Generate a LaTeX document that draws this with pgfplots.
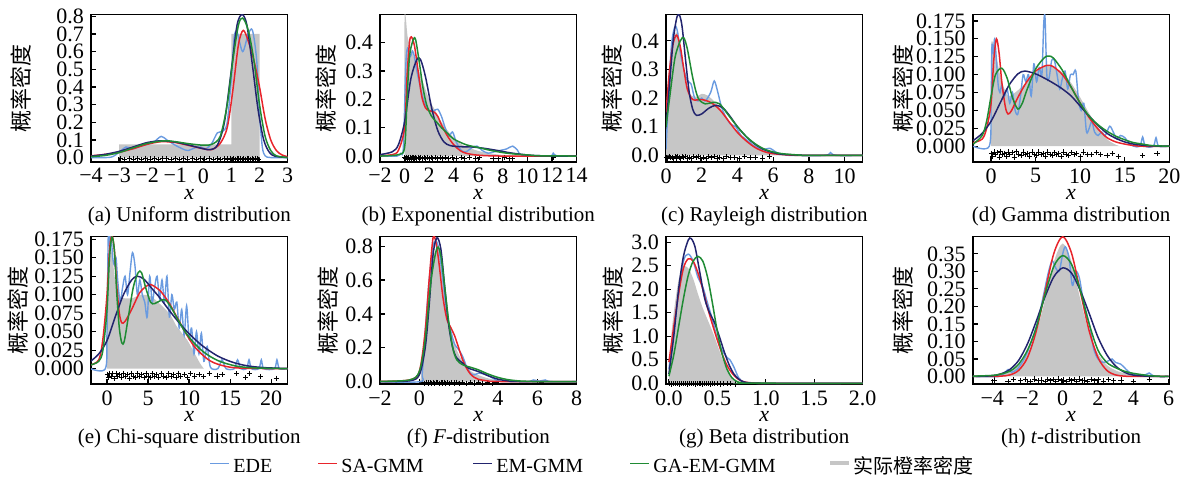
\documentclass[border=0pt]{standalone}
\usepackage{fontspec}
\setmainfont{Liberation Serif}
\newfontfamily\cjk{Noto Sans CJK SC}
\usepackage{pgfplots}
\pgfplotsset{compat=1.18}

\definecolor{edec}{HTML}{6A9BE0}
\definecolor{sac}{HTML}{E8242B}
\definecolor{emc}{HTML}{22246E}
\definecolor{gac}{HTML}{1F8B34}
\definecolor{truthc}{HTML}{C6C6C6}

\pgfplotsset{
  panel/.style={
    scale only axis, width=98.3pt, height=73.75pt,
    anchor=north west,
    axis line style={black, line width=0.8pt},
    tick pos=left, tick align=inside,
    major tick length=2.5pt,
    every tick/.append style={black, line width=0.6pt},
    tick label style={font=\fontsize{11}{12}\selectfont},
    xticklabel style={inner sep=0pt, yshift=-3pt},
    xlabel={\itshape x},
    xlabel style={font=\fontsize{11}{12}\selectfont, inner sep=0pt, at={(axis description cs:0.5,0)}, anchor=center, yshift=-16pt},
    ylabel={\fontsize{11}{12}\selectfont\cjk 概率密度},
    clip mode=individual,
  },
  ylab/.style={ylabel style={at={(axis description cs:#1,0.5)}, anchor=center}},
  ede/.style={color=edec, line width=0.7pt, mark=none},
  sa/.style={color=sac, line width=0.75pt, mark=none},
  em/.style={color=emc, line width=0.75pt, mark=none},
  ga/.style={color=gac, line width=0.75pt, mark=none},
  truth/.style={fill=truthc, draw=none, mark=none},
  rug/.style={only marks, mark=+, mark size=1.3pt, black, mark options={line width=0.4pt}},
}
\newcommand{\subcap}[1]{\node[font=\fontsize{10.5}{12}\selectfont, inner sep=0pt] at (axis description cs:0.5,0) [yshift=-27pt] {#1};}
\newcommand{\legtext}[2]{\node[anchor=west, inner sep=0pt, font=\fontsize{10}{12}\selectfont] at (axis cs:#1,0) {#2};}

\begin{document}
\begin{tikzpicture}
\useasboundingbox (0,0) rectangle (595pt,-240pt);

% (a) uniform
\begin{axis}[panel, ylab=-0.355, at={(45.5pt,-7.25pt)},
  xmin=-4, xmax=3, ymin=-0.025, ymax=0.81,
  xtick={-4,-3,-2,-1,0,1,2,3}, xticklabels={−4,−3,−2,−1,0,1,2,3},
  ytick={0,0.1,0.2,0.3,0.4,0.5,0.6,0.7,0.8},
  yticklabels={0.0,0.1,0.2,0.3,0.4,0.5,0.6,0.7,0.8}]
\addplot[truth] coordinates {(-3,0) (-3,0.075) (1,0.075) (1,0.7) (2,0.7) (2,0)} \closedcycle;
\addplot[rug] coordinates {
 (-2.95,-0.006) (-2.8,-0.01) (-2.62,-0.004) (-2.5,-0.008) (-2.35,-0.005) (-2.2,-0.011)
 (-2.05,-0.004) (-1.9,-0.008) (-1.75,-0.006) (-1.6,-0.01) (-1.45,-0.004) (-1.3,-0.007)
 (-1.15,-0.011) (-1.0,-0.005) (-0.85,-0.009) (-0.7,-0.004) (-0.55,-0.008) (-0.4,-0.006)
 (-0.25,-0.01) (-0.1,-0.005) (0.05,-0.008) (0.2,-0.004) (0.35,-0.009) (0.5,-0.006)
 (0.62,-0.01) (0.75,-0.005) (0.85,-0.008) (0.95,-0.004) (1.02,-0.009) (1.08,-0.006)
 (1.14,-0.011) (1.2,-0.004) (1.26,-0.008) (1.32,-0.005) (1.38,-0.01) (1.44,-0.006)
 (1.5,-0.009) (1.56,-0.004) (1.62,-0.007) (1.68,-0.011) (1.74,-0.005) (1.8,-0.009)
 (1.86,-0.004) (1.92,-0.007) (1.97,-0.01)};
\addplot[ede, smooth] coordinates {
 (-4,0) (-3.3,0.002) (-3.0,0.03) (-2.75,0.06) (-2.5,0.05) (-2.25,0.065) (-2.0,0.075)
 (-1.75,0.09) (-1.5,0.12) (-1.3,0.1) (-1.0,0.07) (-0.75,0.05) (-0.55,0.04) (-0.3,0.055)
 (-0.1,0.06) (0.1,0.05) (0.3,0.08) (0.5,0.14) (0.7,0.15) (0.85,0.2) (1.0,0.45) (1.1,0.68)
 (1.2,0.71) (1.4,0.6) (1.6,0.7) (1.75,0.72) (1.9,0.55) (2.0,0.25) (2.1,0.06) (2.2,0.01)
 (2.4,0) (3,0)};
\addplot[sa, smooth] coordinates {
 (-4,0.01) (-3.5,0.018) (-3,0.03) (-2.5,0.05) (-2,0.075) (-1.5,0.09) (-1,0.085) (-0.5,0.068)
 (0,0.05) (0.3,0.045) (0.6,0.08) (0.85,0.17) (1.05,0.38) (1.25,0.64) (1.42,0.72) (1.6,0.66)
 (1.8,0.55) (2.0,0.4) (2.2,0.22) (2.4,0.1) (2.6,0.04) (2.8,0.015) (3,0.005)};
\addplot[em, smooth] coordinates {
 (-4,0.008) (-3.5,0.018) (-3,0.035) (-2.5,0.06) (-2,0.085) (-1.5,0.095) (-1,0.088)
 (-0.5,0.07) (0,0.05) (0.25,0.045) (0.5,0.07) (0.75,0.2) (1,0.5) (1.2,0.75) (1.38,0.81)
 (1.55,0.75) (1.75,0.52) (1.95,0.27) (2.15,0.1) (2.35,0.03) (2.55,0.008) (3,0)};
\addplot[ga, smooth] coordinates {
 (-4,0.005) (-3.5,0.012) (-3,0.028) (-2.5,0.055) (-2,0.08) (-1.4,0.095) (-1,0.09)
 (-0.5,0.078) (0,0.07) (0.3,0.075) (0.6,0.12) (0.85,0.3) (1.05,0.55) (1.25,0.75) (1.4,0.79)
 (1.6,0.72) (1.8,0.55) (2.0,0.3) (2.2,0.12) (2.4,0.04) (2.6,0.01) (3,0)};
\subcap{(a) Uniform distribution}
\end{axis}

% (b) exponential
\begin{axis}[panel, ylab=-0.274, at={(190pt,-7.25pt)},
  xmin=-2, xmax=14, ymin=-0.021, ymax=0.499,
  xtick={-2,0,2,4,6,8,10,12,14}, xticklabels={−2,0,2,4,6,8,10,12,14},
  ytick={0,0.1,0.2,0.3,0.4}, yticklabels={0.0,0.1,0.2,0.3,0.4}]
\addplot[truth, smooth] coordinates {(0,0) (0,0.49) (0.25,0.42) (0.5,0.38) (1,0.32) (1.5,0.26)
 (2,0.2) (2.5,0.16) (3,0.12) (3.5,0.09) (4,0.065) (4.5,0.045) (5,0.033) (6,0.018) (7,0.009)
 (8,0.004) (10,0.001) (14,0)} \closedcycle;
\addplot[rug] coordinates {
 (0.02,-0.006) (0.08,-0.01) (0.15,-0.004) (0.22,-0.008) (0.3,-0.006) (0.38,-0.011) (0.45,-0.005)
 (0.55,-0.009) (0.62,-0.004) (0.72,-0.007) (0.8,-0.01) (0.9,-0.005) (1.0,-0.008) (1.1,-0.004)
 (1.2,-0.009) (1.32,-0.006) (1.45,-0.01) (1.58,-0.005) (1.7,-0.008) (1.85,-0.004) (2.0,-0.009)
 (2.15,-0.006) (2.3,-0.01) (2.5,-0.005) (2.7,-0.008) (2.9,-0.004) (3.1,-0.009) (3.35,-0.006)
 (3.6,-0.01) (3.9,-0.005) (4.2,-0.008) (4.6,-0.006) (4.9,-0.01) (5.3,-0.005) (5.8,-0.008)
 (6.1,-0.005) (7.2,-0.007) (7.6,-0.009) (8.1,-0.005) (8.5,-0.008) (8.8,-0.01) (12.1,-0.006)};
\addplot[ede, smooth] coordinates {
 (-2,0) (-0.6,0) (-0.3,0.01) (-0.1,0.03) (0.1,0.32) (0.25,0.38) (0.45,0.35) (0.65,0.37)
 (0.8,0.35) (1.0,0.3) (1.3,0.24) (1.6,0.19) (2.0,0.16) (2.4,0.16) (2.7,0.165) (3.0,0.14)
 (3.3,0.1) (3.6,0.07) (3.9,0.085) (4.2,0.05) (4.6,0.02) (5.0,0.015) (5.5,0.03) (5.9,0.035)
 (6.3,0.02) (6.8,0.01) (7.3,0.015) (7.8,0.02) (8.3,0.025) (8.8,0.035) (9.2,0.02) (9.6,0.003)
 (11.8,0) (12.1,0.01) (12.4,0) (14,0)};
\addplot[sa, smooth] coordinates {
 (-2,0.001) (-1,0.005) (-0.5,0.02) (0,0.1) (0.2,0.28) (0.4,0.4) (0.55,0.42) (0.8,0.39)
 (1.1,0.3) (1.4,0.21) (1.7,0.17) (2.0,0.16) (2.4,0.155) (2.7,0.14) (3.0,0.11) (3.5,0.07)
 (4,0.04) (4.5,0.02) (5,0.01) (6,0.003) (8,0) (14,0)};
\addplot[em, smooth] coordinates {
 (-2,0.005) (-1,0.015) (-0.5,0.04) (0,0.12) (0.5,0.27) (1.0,0.34) (1.3,0.34) (1.7,0.28)
 (2.2,0.17) (2.7,0.09) (3.2,0.05) (3.7,0.037) (4.5,0.033) (5.5,0.032) (6.5,0.027) (7.5,0.02)
 (8.5,0.012) (9.5,0.006) (10.5,0.002) (12,0) (14,0)};
\addplot[ga, smooth] coordinates {
 (-2,0) (-0.5,0.005) (0,0.03) (0.2,0.2) (0.4,0.35) (0.7,0.41) (0.9,0.41) (1.2,0.33)
 (1.5,0.24) (1.8,0.18) (2.2,0.14) (2.6,0.12) (3,0.1) (3.5,0.08) (4,0.06) (5,0.04) (6,0.03)
 (7,0.02) (8,0.012) (9,0.007) (10,0.004) (11,0.001) (14,0)};
\subcap{(b) Exponential distribution}
\end{axis}

% (c) Rayleigh
\begin{axis}[panel, ylab=-0.272, at={(333pt,-7.25pt)},
  xmin=0, xmax=11, ymin=-0.023, ymax=0.492,
  xtick={0,2,4,6,8,10}, xticklabels={0,2,4,6,8,10},
  ytick={0,0.1,0.2,0.3,0.4}, yticklabels={0.0,0.1,0.2,0.3,0.4}]
\addplot[truth, smooth] coordinates {(0,0) (0,0.05) (0.2,0.25) (0.4,0.38) (0.56,0.43) (0.75,0.4)
 (1.0,0.3) (1.2,0.24) (1.4,0.21) (1.7,0.205) (2.0,0.215) (2.3,0.21) (2.6,0.195) (2.9,0.175)
 (3.2,0.15) (3.6,0.11) (4.0,0.085) (4.3,0.066) (4.7,0.045) (5.1,0.031) (5.5,0.02) (5.8,0.014)
 (6.3,0.007) (7,0.002) (8,0)} \closedcycle;
\addplot[rug] coordinates {
 (0.03,-0.006) (0.1,-0.01) (0.18,-0.004) (0.26,-0.008) (0.34,-0.006) (0.42,-0.011) (0.5,-0.005)
 (0.58,-0.009) (0.66,-0.004) (0.74,-0.007) (0.82,-0.01) (0.9,-0.005) (1.0,-0.008) (1.1,-0.004)
 (1.2,-0.009) (1.3,-0.006) (1.42,-0.01) (1.55,-0.005) (1.68,-0.008) (1.8,-0.004) (1.95,-0.009)
 (2.1,-0.006) (2.25,-0.01) (2.4,-0.005) (2.55,-0.008) (2.7,-0.004) (2.85,-0.009) (3.0,-0.006)
 (3.2,-0.01) (3.4,-0.005) (3.6,-0.008) (3.85,-0.006) (4.1,-0.01) (4.4,-0.005) (4.7,-0.008)
 (5.0,-0.006) (5.4,-0.009) (5.8,-0.005)};
\addplot[ede, smooth] coordinates {
 (0,0.02) (0.1,0.15) (0.3,0.38) (0.5,0.45) (0.65,0.43) (0.8,0.36) (1.0,0.3) (1.2,0.26)
 (1.4,0.25) (1.6,0.2) (1.8,0.19) (2.0,0.2) (2.2,0.19) (2.5,0.22) (2.7,0.26) (2.9,0.22)
 (3.1,0.17) (3.3,0.14) (3.6,0.11) (3.9,0.1) (4.2,0.07) (4.6,0.05) (5.0,0.03) (5.4,0.02)
 (5.8,0.025) (6.2,0.01) (6.6,0.003) (7,0) (8.9,0) (9.2,0.01) (9.5,0) (11,0)};
\addplot[sa, smooth] coordinates {
 (0,0.15) (0.2,0.3) (0.4,0.39) (0.6,0.42) (0.8,0.38) (1.0,0.3) (1.2,0.23) (1.5,0.195)
 (2.0,0.195) (2.5,0.185) (3.0,0.16) (3.5,0.12) (4.0,0.08) (4.5,0.05) (5.0,0.027) (5.5,0.013)
 (6.0,0.006) (7,0.001) (8,0) (11,0)};
\addplot[em, smooth] coordinates {
 (0,0.1) (0.2,0.25) (0.4,0.4) (0.6,0.48) (0.75,0.49) (0.9,0.45) (1.1,0.33) (1.3,0.22)
 (1.5,0.16) (1.7,0.14) (2.0,0.145) (2.4,0.165) (2.8,0.175) (3.2,0.165) (3.6,0.135) (4.0,0.1)
 (4.5,0.065) (5.0,0.038) (5.5,0.02) (6.0,0.01) (6.5,0.004) (7.5,0.001) (8,0) (11,0)};
\addplot[ga, smooth] coordinates {
 (0,0.1) (0.2,0.2) (0.5,0.34) (0.8,0.4) (1.0,0.41) (1.2,0.37) (1.5,0.27) (1.8,0.2)
 (2.2,0.18) (2.6,0.185) (3.0,0.18) (3.5,0.14) (4.0,0.1) (4.5,0.065) (5.0,0.04) (5.5,0.022)
 (6.0,0.012) (6.5,0.006) (7.5,0.001) (8,0) (11,0)};
\subcap{(c) Rayleigh distribution}
\end{axis}

% (d) Gamma
\begin{axis}[panel, ylab=-0.356, at={(486.4pt,-7.25pt)},
  xmin=-2.05, xmax=20, ymin=-0.022, ymax=0.184,
  xtick={0,5,10,15,20}, xticklabels={0,5,10,15,20},
  ytick={0,0.025,0.05,0.075,0.1,0.125,0.15,0.175},
  yticklabels={0.000,0.025,0.050,0.075,0.100,0.125,0.150,0.175}]
\addplot[truth, smooth] coordinates {(0,0) (0,0.14) (0.5,0.13) (1,0.1) (1.5,0.08) (2,0.07)
 (3,0.078) (4,0.09) (5,0.103) (6,0.112) (7,0.11) (8,0.103) (9,0.088) (10,0.068) (11,0.046)
 (12,0.027) (13,0.01) (14,0.002) (14.5,0)} \closedcycle;
\addplot[rug] coordinates {
 (0.05,-0.01) (0.2,-0.014) (0.35,-0.008) (0.5,-0.012) (0.7,-0.009) (0.9,-0.015) (1.1,-0.007)
 (1.3,-0.012) (1.5,-0.01) (1.7,-0.014) (1.9,-0.008) (2.1,-0.012) (2.35,-0.009) (2.6,-0.015)
 (2.85,-0.007) (3.1,-0.011) (3.35,-0.013) (3.6,-0.008) (3.85,-0.012) (4.1,-0.01) (4.35,-0.014)
 (4.6,-0.008) (4.85,-0.011) (5.1,-0.013) (5.35,-0.008) (5.6,-0.012) (5.85,-0.01) (6.1,-0.014)
 (6.35,-0.008) (6.6,-0.011) (6.85,-0.013) (7.1,-0.009) (7.35,-0.012) (7.6,-0.01) (7.85,-0.014)
 (8.1,-0.008) (8.4,-0.011) (8.7,-0.013) (9.0,-0.009) (9.3,-0.012) (9.6,-0.01) (10.0,-0.014)
 (10.4,-0.008) (10.8,-0.011) (11.3,-0.012) (11.8,-0.009) (12.3,-0.011) (13.0,-0.013)
 (13.6,-0.01) (14.3,-0.014) (17.0,-0.013) (18.6,-0.01)};
\addplot[ede, smooth] coordinates {
 (-2,0) (-0.2,0) (0,0.06) (0.1,0.14) (0.25,0.13) (0.4,0.15) (0.6,0.12) (0.8,0.085) (1.0,0.075)
 (1.2,0.085) (1.5,0.07) (1.8,0.08) (2.1,0.06) (2.4,0.075) (2.7,0.05) (3.0,0.045) (3.3,0.07)
 (3.6,0.1) (3.9,0.09) (4.2,0.1) (4.5,0.07) (4.8,0.115) (5.1,0.09) (5.4,0.11) (5.7,0.1)
 (5.9,0.17) (6.05,0.18) (6.25,0.1) (6.5,0.095) (6.8,0.12) (7.1,0.12) (7.4,0.1) (7.7,0.08)
 (8.0,0.095) (8.3,0.105) (8.6,0.08) (8.9,0.1) (9.2,0.1) (9.5,0.105) (9.8,0.065) (10.1,0.05)
 (10.4,0.06) (10.7,0.02) (11.0,0.025) (11.3,0.035) (11.6,0.02) (12.0,0.015) (12.4,0.02)
 (12.8,0.015) (13.3,0.028) (13.7,0.02) (14.1,0.01) (14.5,0.015) (15.0,0.012) (15.5,0.004)
 (16.0,0) (16.7,0) (17.0,0.013) (17.3,0) (18.2,0) (18.5,0.012) (18.8,0) (20,0)};
\addplot[sa, smooth] coordinates {
 (-2,0.005) (-1,0.01) (-0.5,0.025) (0,0.06) (0.3,0.12) (0.6,0.15) (0.9,0.13) (1.2,0.09)
 (1.6,0.055) (1.9,0.045) (2.3,0.05) (3,0.068) (4,0.09) (5,0.105) (6,0.112) (6.5,0.113)
 (7,0.111) (8,0.1) (9,0.082) (10,0.06) (11,0.04) (12,0.024) (13,0.012) (14,0.006) (15,0.003)
 (16,0.001) (17,0) (20,0)};
\addplot[em, smooth] coordinates {
 (-2,0.008) (-1,0.018) (0,0.035) (1,0.06) (2,0.085) (3,0.101) (3.8,0.105) (5,0.101) (6,0.095)
 (7,0.088) (8,0.08) (9,0.07) (10,0.056) (11,0.042) (12,0.029) (13,0.018) (14,0.011) (15,0.006)
 (16,0.003) (17,0.0015) (18,0.0005) (20,0)};
\addplot[ga, smooth] coordinates {
 (-2,0.003) (-1,0.015) (-0.5,0.035) (0,0.07) (0.5,0.1) (1.2,0.109) (1.8,0.095) (2.4,0.068)
 (3.0,0.052) (3.5,0.06) (4,0.078) (5,0.108) (6,0.124) (6.5,0.126) (7,0.123) (8,0.106)
 (9,0.082) (10,0.06) (11,0.042) (12,0.03) (13,0.021) (14,0.014) (15,0.009) (16,0.005)
 (17,0.003) (18,0.001) (20,0)};
\subcap{(d) Gamma distribution}
\end{axis}

% (e) chi-square
\begin{axis}[panel, ylab=-0.369, at={(45.5pt,-118.35pt)},
  xmin=-1.95, xmax=22, ymin=-0.021, ymax=0.1785,
  xtick={0,5,10,15,20}, xticklabels={0,5,10,15,20},
  ytick={0,0.025,0.05,0.075,0.1,0.125,0.15,0.175},
  yticklabels={0.000,0.025,0.050,0.075,0.100,0.125,0.150,0.175}]
\addplot[truth, smooth] coordinates {(0,0) (0,0.12) (0.3,0.16) (0.6,0.156) (1.0,0.12) (1.6,0.098)
 (2.5,0.095) (3.25,0.096) (4.1,0.1) (5.3,0.098) (6.5,0.087) (7.7,0.073) (8.5,0.057)
 (9.75,0.039) (10.6,0.022) (11.4,0.006) (11.8,0)} \closedcycle;
\addplot[rug] coordinates {
 (0.05,-0.008) (0.2,-0.012) (0.35,-0.006) (0.5,-0.01) (0.7,-0.007) (0.9,-0.013) (1.1,-0.006)
 (1.3,-0.01) (1.5,-0.008) (1.75,-0.012) (2.0,-0.006) (2.25,-0.01) (2.5,-0.008) (2.75,-0.013)
 (3.0,-0.006) (3.25,-0.01) (3.5,-0.012) (3.75,-0.007) (4.0,-0.01) (4.25,-0.008) (4.5,-0.012)
 (4.75,-0.006) (5.0,-0.01) (5.25,-0.012) (5.5,-0.007) (5.75,-0.01) (6.0,-0.008) (6.3,-0.012)
 (6.6,-0.006) (6.9,-0.01) (7.2,-0.012) (7.5,-0.007) (7.8,-0.01) (8.1,-0.008) (8.4,-0.012)
 (8.7,-0.006) (9.0,-0.01) (9.4,-0.008) (9.8,-0.012) (10.2,-0.007) (10.7,-0.01) (11.2,-0.008)
 (11.8,-0.011) (12.5,-0.007) (13.4,-0.01) (14.0,-0.008) (15.8,-0.007) (16.9,-0.012)
 (17.4,-0.006) (18.7,-0.011) (20.6,-0.013)};
\addplot[ede, smooth] coordinates {
 (-2,0) (-0.2,0) (0,0.05) (0.15,0.178) (0.35,0.17) (0.5,0.18) (0.7,0.15) (0.9,0.14) (1.1,0.15)
 (1.3,0.12) (1.6,0.09) (1.9,0.11) (2.2,0.125) (2.5,0.1) (2.8,0.13) (3.1,0.157) (3.4,0.14)
 (3.7,0.1) (4.0,0.12) (4.3,0.1) (4.6,0.09) (4.9,0.07) (5.2,0.125) (5.5,0.09) (5.8,0.11)
 (6.1,0.125) (6.4,0.095) (6.7,0.12) (7.0,0.09) (7.3,0.125) (7.6,0.07) (7.9,0.1) (8.2,0.08)
 (8.5,0.09) (8.8,0.055) (9.1,0.08) (9.4,0.045) (9.7,0.085) (10,0.04) (10.3,0.055) (10.6,0.02)
 (10.9,0.05) (11.2,0.02) (11.5,0.048) (11.8,0.01) (12.2,0.03) (12.6,0.002) (13.5,0)
 (14,0.012) (14.5,0) (15.5,0) (15.9,0.012) (16.3,0) (17,0) (17.3,0.012) (17.6,0) (18.5,0)
 (18.8,0.012) (19.1,0) (20.4,0) (20.7,0.012) (21,0) (22,0)};
\addplot[sa, smooth] coordinates {
 (-2,0.005) (-1,0.012) (-0.5,0.04) (0,0.1) (0.3,0.16) (0.6,0.18) (0.9,0.16) (1.2,0.11)
 (1.5,0.075) (1.8,0.062) (2.2,0.064) (3,0.08) (4,0.103) (5,0.113) (5.5,0.113) (6.5,0.105)
 (7.5,0.09) (8.5,0.07) (9.5,0.05) (10.5,0.032) (11.5,0.02) (12.5,0.011) (13.5,0.006)
 (15,0.002) (17,0.0005) (22,0)};
\addplot[em, smooth] coordinates {
 (-2,0.01) (-1,0.02) (0,0.038) (1,0.07) (2,0.1) (3,0.12) (3.7,0.125) (4.5,0.121) (5.5,0.108)
 (6.5,0.095) (7.5,0.08) (8.5,0.066) (9.5,0.053) (10.5,0.042) (11.5,0.032) (12.5,0.024)
 (13.5,0.017) (14.5,0.012) (15.5,0.008) (17,0.004) (19,0.0015) (22,0.0002)};
\addplot[ga, smooth] coordinates {
 (-2,0.005) (-1,0.01) (-0.5,0.025) (0,0.08) (0.3,0.15) (0.6,0.178) (0.9,0.16) (1.2,0.1)
 (1.5,0.055) (1.8,0.035) (2.1,0.037) (2.6,0.07) (3.2,0.11) (3.8,0.13) (4.2,0.13) (4.7,0.11)
 (5.3,0.09) (5.8,0.088) (6.5,0.092) (7.1,0.093) (7.8,0.083) (8.6,0.067) (9.5,0.05)
 (10.5,0.036) (11.5,0.025) (12.5,0.017) (13.5,0.011) (14.5,0.007) (16,0.003) (18,0.001) (22,0)};
\subcap{(e) Chi-square distribution}
\end{axis}

% (f) F
\begin{axis}[panel, ylab=-0.265, at={(190pt,-118.35pt)},
  xmin=-2, xmax=8, ymin=-0.015, ymax=0.856,
  xtick={-2,0,2,4,6,8}, xticklabels={−2,0,2,4,6,8},
  ytick={0,0.2,0.4,0.6,0.8}, yticklabels={0.0,0.2,0.4,0.6,0.8}]
\addplot[truth, smooth] coordinates {(0.05,0) (0.1,0.05) (0.2,0.15) (0.34,0.31) (0.5,0.6)
 (0.65,0.72) (0.77,0.76) (0.94,0.78) (1.05,0.72) (1.2,0.6) (1.45,0.37) (1.7,0.25) (1.97,0.17)
 (2.3,0.1) (2.65,0.06) (3.2,0.03) (3.85,0.01) (4.5,0.002) (5,0)} \closedcycle;
\addplot[rug] coordinates {
 (0.15,-0.006) (0.25,-0.01) (0.35,-0.004) (0.45,-0.008) (0.55,-0.006) (0.62,-0.011)
 (0.7,-0.005) (0.78,-0.009) (0.86,-0.004) (0.94,-0.007) (1.02,-0.01) (1.1,-0.005) (1.18,-0.008)
 (1.26,-0.004) (1.35,-0.009) (1.45,-0.006) (1.55,-0.01) (1.65,-0.005) (1.78,-0.008) (1.9,-0.004)
 (2.05,-0.009) (2.2,-0.006) (2.4,-0.01) (2.6,-0.005) (2.8,-0.008) (3.0,-0.004) (3.2,-0.009)
 (3.45,-0.006) (3.7,-0.01) (3.9,-0.005) (6.2,-0.007)};
\addplot[ede, smooth] coordinates {
 (-2,0) (0.05,0) (0.15,0.05) (0.3,0.3) (0.5,0.6) (0.7,0.8) (0.85,0.83) (1.0,0.78) (1.2,0.6)
 (1.4,0.4) (1.6,0.3) (1.8,0.22) (2.0,0.19) (2.2,0.15) (2.4,0.09) (2.6,0.05) (2.8,0.04)
 (3.0,0.05) (3.3,0.045) (3.6,0.03) (3.9,0.01) (4.2,0.002) (5.5,0) (5.8,0.01) (6.1,0.003)
 (6.4,0.01) (6.7,0) (8,0)};
\addplot[sa, smooth] coordinates {
 (-2,0.001) (-0.5,0.01) (0,0.06) (0.3,0.3) (0.5,0.6) (0.7,0.85) (0.85,0.82) (1.0,0.7)
 (1.2,0.5) (1.4,0.37) (1.6,0.32) (1.8,0.27) (2.0,0.2) (2.2,0.13) (2.4,0.08) (2.6,0.045)
 (2.8,0.025) (3.0,0.014) (3.5,0.004) (4,0.001) (8,0)};
\addplot[em, smooth] coordinates {
 (-2,0) (-0.5,0.005) (0,0.04) (0.3,0.2) (0.5,0.45) (0.7,0.75) (0.9,0.85) (1.1,0.78) (1.3,0.55)
 (1.5,0.33) (1.7,0.2) (1.9,0.14) (2.2,0.11) (2.5,0.08) (3.0,0.06) (3.5,0.035) (4.0,0.015)
 (4.5,0.005) (5,0.001) (8,0)};
\addplot[ga, smooth] coordinates {
 (-2,0.002) (-0.5,0.01) (0,0.06) (0.3,0.25) (0.6,0.6) (0.9,0.79) (1.1,0.74) (1.3,0.55)
 (1.5,0.35) (1.7,0.2) (1.9,0.13) (2.2,0.1) (2.6,0.085) (3.0,0.07) (3.5,0.045) (4.0,0.025)
 (4.5,0.012) (5.0,0.005) (5.5,0.002) (6,0.0005) (8,0)};
\subcap{(f) \textit{F}-distribution}
\end{axis}

% (g) Beta
\begin{axis}[panel, ylab=-0.269, at={(333pt,-118.35pt)},
  xmin=-0.03, xmax=2, ymin=-0.02, ymax=3.12,
  xtick={0,0.5,1,1.5,2}, xticklabels={0.0,0.5,1.0,1.5,2.0},
  ytick={0,0.5,1,1.5,2,2.5,3}, yticklabels={0.0,0.5,1.0,1.5,2.0,2.5,3.0}]
\addplot[truth, smooth] coordinates {(0,0) (0.02,0.9) (0.05,1.5) (0.1,2.2) (0.15,2.48) (0.2,2.45)
 (0.25,2.23) (0.3,1.9) (0.35,1.6) (0.4,1.35) (0.45,1.1) (0.5,0.82) (0.55,0.53) (0.6,0.28)
 (0.65,0.1) (0.7,0.01) (0.72,0)} \closedcycle;
\addplot[rug] coordinates {
 (0.01,-0.01) (0.03,-0.015) (0.05,-0.007) (0.07,-0.012) (0.09,-0.009) (0.11,-0.016)
 (0.13,-0.008) (0.15,-0.012) (0.17,-0.01) (0.19,-0.015) (0.21,-0.007) (0.23,-0.012)
 (0.25,-0.009) (0.27,-0.016) (0.29,-0.008) (0.31,-0.012) (0.33,-0.01) (0.35,-0.015)
 (0.37,-0.007) (0.39,-0.012) (0.41,-0.009) (0.43,-0.016) (0.45,-0.008) (0.47,-0.012)
 (0.5,-0.01) (0.53,-0.015) (0.56,-0.008) (0.6,-0.012) (0.64,-0.01) (0.69,-0.014)};
\addplot[ede, smooth] coordinates {
 (0,0.3) (0.05,1.1) (0.1,1.9) (0.15,2.6) (0.2,2.75) (0.25,2.6) (0.3,2.25) (0.35,2.05) (0.4,1.7)
 (0.45,1.35) (0.5,0.95) (0.55,0.7) (0.6,0.55) (0.63,0.5) (0.67,0.35) (0.72,0.12) (0.77,0.03)
 (0.85,0) (2,0)};
\addplot[sa, smooth] coordinates {
 (0,0.45) (0.05,1.2) (0.1,1.9) (0.15,2.45) (0.2,2.65) (0.25,2.6) (0.3,2.35) (0.35,2.0)
 (0.4,1.6) (0.45,1.25) (0.5,0.92) (0.55,0.62) (0.6,0.38) (0.65,0.22) (0.7,0.11) (0.75,0.05)
 (0.8,0.02) (0.9,0.003) (1,0) (2,0)};
\addplot[em, smooth] coordinates {
 (0,0.2) (0.05,1.0) (0.1,2.0) (0.15,2.7) (0.2,3.05) (0.23,3.08) (0.27,2.9) (0.32,2.35)
 (0.37,1.8) (0.42,1.5) (0.47,1.3) (0.52,1.0) (0.57,0.68) (0.62,0.4) (0.67,0.2) (0.72,0.09)
 (0.77,0.03) (0.85,0.005) (1,0) (2,0)};
\addplot[ga, smooth] coordinates {
 (0,0.15) (0.05,0.6) (0.1,1.2) (0.15,1.8) (0.2,2.3) (0.25,2.6) (0.3,2.7) (0.35,2.6) (0.4,2.25)
 (0.45,1.7) (0.5,1.1) (0.55,0.62) (0.6,0.3) (0.65,0.12) (0.7,0.04) (0.75,0.01) (0.85,0.001)
 (2,0)};
\subcap{(g) Beta distribution}
\end{axis}

% (h) t
\begin{axis}[panel, ylab=-0.355, at={(486.4pt,-118.35pt)},
  xmin=-5.1, xmax=6.05, ymin=-0.022, ymax=0.399,
  xtick={-4,-2,0,2,4,6}, xticklabels={−4,−2,0,2,4,6},
  ytick={0,0.05,0.1,0.15,0.2,0.25,0.3,0.35},
  yticklabels={0.00,0.05,0.10,0.15,0.20,0.25,0.30,0.35}]
\addplot[truth, smooth] coordinates {(-5.1,0) (-5.1,0.0016) (-4.5,0.003) (-4,0.0051) (-3.5,0.0092)
 (-3,0.0173) (-2.5,0.0329) (-2,0.0651) (-1.5,0.1245) (-1,0.2197) (-0.5,0.3279) (0,0.3796)
 (0.5,0.3279) (1,0.2197) (1.5,0.1245) (2,0.0651) (2.5,0.0329) (3,0.0173) (3.5,0.0092)
 (4,0.0051) (4.5,0.003) (5,0.0018) (6,0.0007) (6,0)} \closedcycle;
\addplot[rug] coordinates {
 (-3.9,-0.01) (-3.1,-0.014) (-2.8,-0.008) (-2.4,-0.012) (-2.1,-0.009) (-1.85,-0.015)
 (-1.6,-0.007) (-1.4,-0.012) (-1.2,-0.01) (-1.0,-0.014) (-0.85,-0.008) (-0.7,-0.012)
 (-0.55,-0.009) (-0.4,-0.015) (-0.25,-0.007) (-0.1,-0.012) (0.05,-0.01) (0.2,-0.014)
 (0.35,-0.008) (0.5,-0.012) (0.65,-0.009) (0.8,-0.015) (0.95,-0.007) (1.1,-0.012) (1.25,-0.01)
 (1.4,-0.014) (1.6,-0.008) (1.8,-0.012) (2.0,-0.009) (2.3,-0.013) (2.6,-0.008) (2.9,-0.012)
 (3.3,-0.01) (4.0,-0.014) (4.9,-0.008)};
\addplot[ede, smooth] coordinates {
 (-5.1,0) (-3.6,0) (-3.3,0.01) (-3.1,0.02) (-2.9,0.012) (-2.6,0.02) (-2.3,0.04) (-2.0,0.07)
 (-1.7,0.11) (-1.4,0.16) (-1.1,0.23) (-0.8,0.3) (-0.6,0.33) (-0.4,0.31) (-0.2,0.3) (0,0.35)
 (0.15,0.37) (0.35,0.34) (0.55,0.26) (0.75,0.3) (0.95,0.28) (1.15,0.22) (1.35,0.18)
 (1.55,0.14) (1.75,0.08) (2.0,0.05) (2.3,0.04) (2.6,0.045) (2.8,0.05) (3.0,0.04) (3.3,0.035)
 (3.6,0.02) (3.9,0.008) (4.3,0.003) (4.7,0.005) (4.9,0.01) (5.1,0.003) (5.4,0) (6,0)};
\addplot[sa, smooth] coordinates {
 (-5.1,0) (-4,0.0001) (-3.5,0.001) (-3,0.0044) (-2.5,0.0175) (-2,0.054) (-1.5,0.13) (-1,0.242)
 (-0.5,0.352) (0,0.399) (0.5,0.352) (1,0.242) (1.5,0.13) (2,0.054) (2.5,0.0175) (3,0.0044)
 (3.5,0.001) (4,0.0001) (6,0)};
\addplot[em, smooth] coordinates {
 (-5.1,0.0002) (-4,0.002) (-3.5,0.0075) (-3,0.02) (-2.5,0.046) (-2,0.093) (-1.5,0.158)
 (-1,0.228) (-0.5,0.285) (0,0.31) (0.5,0.295) (1,0.245) (1.5,0.18) (2,0.112) (2.5,0.062)
 (3,0.03) (3.5,0.012) (4,0.004) (5,0.0003) (6,0)};
\addplot[ga, smooth] coordinates {
 (-5.1,0.001) (-4,0.003) (-3.5,0.007) (-3,0.015) (-2.5,0.035) (-2,0.075) (-1.5,0.14)
 (-1,0.235) (-0.5,0.315) (0,0.345) (0.5,0.32) (1,0.245) (1.5,0.15) (2,0.075) (2.5,0.04)
 (3,0.025) (3.5,0.015) (4,0.009) (5,0.002) (6,0)};
\subcap{(h) \textit{t}-distribution}
\end{axis}

% shared legend, in an axis of its own (x in picture pixels)
\begin{axis}[hide axis, scale only axis, width=383.5pt, height=10pt,
  anchor=west, at={(104pt,-233pt)}, xmin=208, xmax=975, ymin=-1, ymax=1, clip=false]
\addplot[color=edec, line width=0.6pt] coordinates {(210,0.25) (229,0.25)};
\legtext{233}{EDE}
\addplot[color=sac, line width=0.6pt] coordinates {(318,0.25) (337,0.25)};
\legtext{341}{SA-GMM}
\addplot[color=emc, line width=0.6pt] coordinates {(473,0.25) (492,0.25)};
\legtext{496}{EM-GMM}
\addplot[color=gac, line width=0.6pt] coordinates {(630,0.25) (649,0.25)};
\legtext{653}{GA-EM-GMM}
\addplot[color=truthc, line width=2pt] coordinates {(830,0.25) (849,0.25)};
\legtext{853}{\cjk 实际橙率密度}
\end{axis}
\end{tikzpicture}
\end{document}
